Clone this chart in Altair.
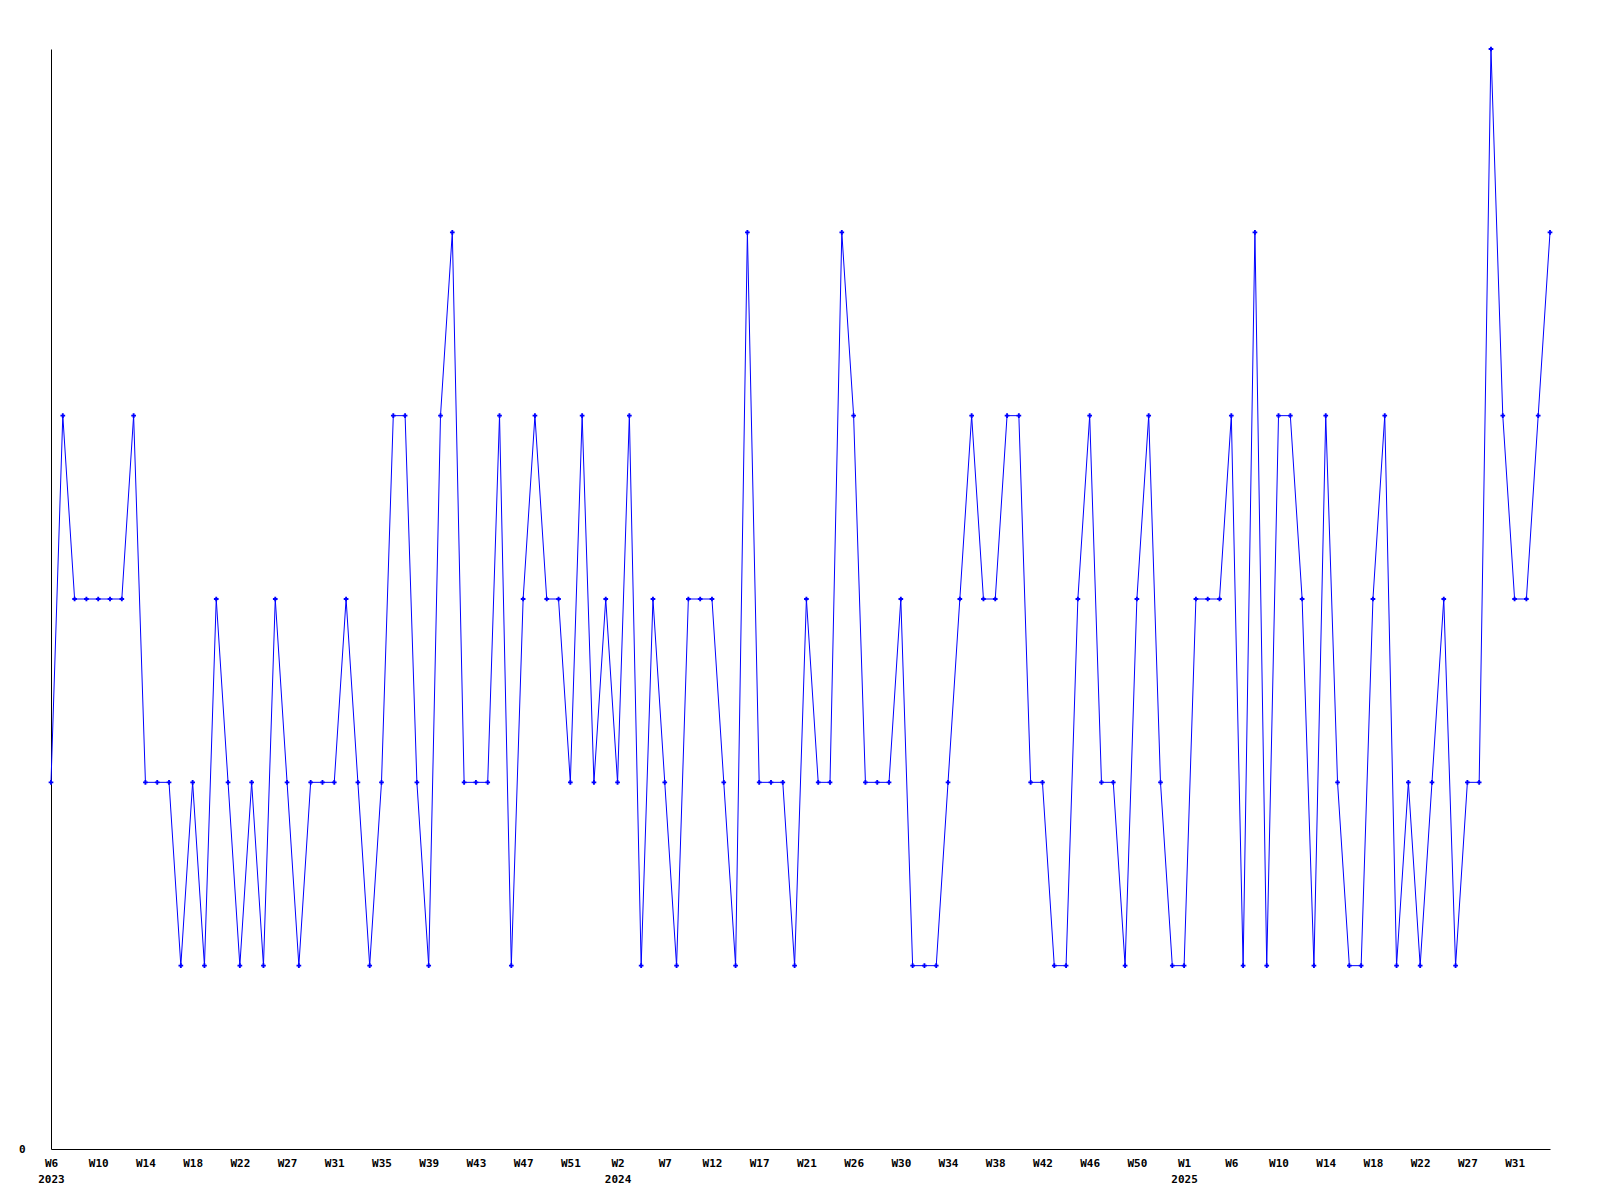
import altair as alt
import pandas as pd
import json

# Series values, one per point (evenly spaced)
values = [2, 4, 3, 3, 3, 3, 3, 4, 2, 2,
          2, 1, 2, 1, 3, 2, 1, 2, 1, 3,
          2, 1, 2, 2, 2, 3, 2, 1, 2, 4,
          4, 2, 1, 4, 5, 2, 2, 2, 4, 1,
          3, 4, 3, 3, 2, 4, 2, 3, 2, 4,
          1, 3, 2, 1, 3, 3, 3, 2, 1, 5,
          2, 2, 2, 1, 3, 2, 2, 5, 4, 2,
          2, 2, 3, 1, 1, 1, 2, 3, 4, 3,
          3, 4, 4, 2, 2, 1, 1, 3, 4, 2,
          2, 1, 3, 4, 2, 1, 1, 3, 3, 3,
          4, 1, 5, 1, 4, 4, 3, 1, 4, 2,
          1, 1, 3, 4, 1, 2, 1, 2, 3, 1,
          2, 2, 6, 4, 3, 3, 4, 5]

# Tick labels: one every 4th point
week_labels = ["W6", "W10", "W14", "W18", "W22", "W27", "W31", "W35", "W39",
               "W43", "W47", "W51", "W2", "W7", "W12", "W17", "W21", "W26",
               "W30", "W34", "W38", "W42", "W46", "W50", "W1", "W6", "W10",
               "W14", "W18", "W22", "W27", "W31"]
year_labels = {0: "2023", 12: "2024", 24: "2025"}
tick_step = 4

df = pd.DataFrame({"idx": list(range(len(values))), "value": values})

label_items = []
for i, w in enumerate(week_labels):
    if i in year_labels:
        label_items.append([w, year_labels[i]])
    else:
        label_items.append(w)
label_expr = json.dumps(label_items).replace('"', "'") + f"[round(datum.value/{tick_step})]"
tick_values = [i * tick_step for i in range(len(week_labels))]

FONT = "DejaVu Sans Mono"

x = alt.X("idx:Q",
          scale=alt.Scale(domain=[0, len(values) - 1], nice=False, zero=False),
          axis=alt.Axis(values=tick_values, labelExpr=label_expr, title=None,
                        ticks=False, grid=False, domainColor="black",
                        labelColor="black", labelFont=FONT, labelFontSize=11,
                        labelFontWeight="bold", labelPadding=8,
                        labelFlush=False, labelOverlap=False,
                        labelBaseline="top", labelLineHeight=16))
y = alt.Y("value:Q",
          scale=alt.Scale(domain=[0, 6], nice=False),
          axis=alt.Axis(values=[0], title=None, ticks=False, grid=False,
                        domainColor="black", labelColor="black",
                        labelFont=FONT, labelFontSize=11, labelFontWeight="bold",
                        labelPadding=26))

line = alt.Chart(df).mark_line(color="#0000ff", strokeWidth=1).encode(x=x, y=y)
pts = alt.Chart(df).mark_point(shape="cross", filled=True, color="#0000ff",
                               size=22, opacity=1).encode(x=x, y=y)

chart = (line + pts).properties(
    width=1499, height=1100,
    autosize=alt.AutoSizeParams(type="none"),
    padding={"left": 43, "top": 41, "right": 30, "bottom": 50},
    background="white",
).configure_view(stroke=None)

chart.save("out.html", embed_options={"renderer": "svg", "actions": False})
